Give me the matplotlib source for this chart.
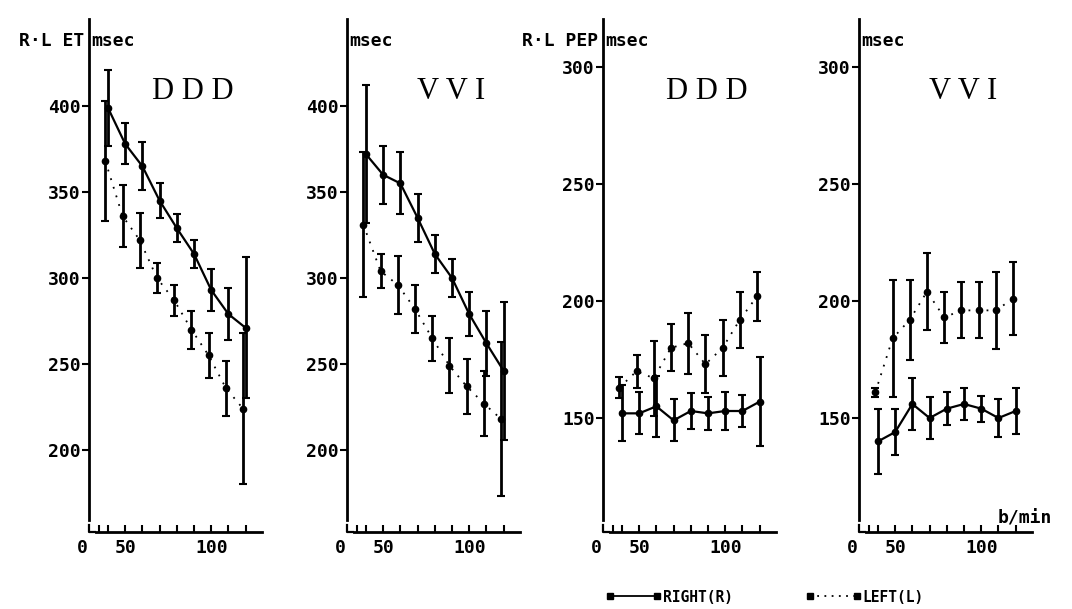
import matplotlib.pyplot as plt
from matplotlib.lines import Line2D

hr = [40, 50, 60, 70, 80, 90, 100, 110, 120]

# R-L ET, DDD
et_ddd_r = [399, 378, 365, 345, 329, 314, 293, 279, 271]
et_ddd_r_sd = [22, 12, 14, 10, 8, 8, 12, 15, 41]
et_ddd_l = [368, 336, 322, 300, 287, 270, 255, 236, 224]
et_ddd_l_sd = [35, 18, 16, 9, 9, 11, 13, 16, 44]

# R-L ET, VVI
et_vvi_r = [372, 360, 355, 335, 314, 300, 279, 262, 246]
et_vvi_r_sd = [40, 17, 18, 14, 11, 11, 13, 19, 40]
et_vvi_l = [331, 304, 296, 282, 265, 249, 237, 227, 218]
et_vvi_l_sd = [42, 10, 17, 14, 13, 16, 16, 19, 45]

# R-L PEP, DDD
pep_ddd_r = [152, 152, 155, 149, 153, 152, 153, 153, 157]
pep_ddd_r_sd = [12, 9, 13, 9, 7.5, 7, 8, 7, 19]
pep_ddd_l = [163, 170, 167, 180, 182, 173, 180, 192, 202]
pep_ddd_l_sd = [4.5, 7, 16, 10, 13, 12.5, 12, 12, 10.5]

# R-L PEP, VVI
pep_vvi_r = [140, 144, 156, 150, 154, 156, 154, 150, 153]
pep_vvi_r_sd = [14, 10, 11, 9, 7, 7, 5.5, 8, 10]
pep_vvi_l = [161, 184, 192, 204, 193, 196, 196, 196, 201]
pep_vvi_l_sd = [2, 25, 17, 16.5, 11, 12, 12, 16.5, 15.5]

panels = [
    ("D D D", et_ddd_r, et_ddd_r_sd, et_ddd_l, et_ddd_l_sd, "R\u00b7L ET"),
    ("V V I", et_vvi_r, et_vvi_r_sd, et_vvi_l, et_vvi_l_sd, None),
    ("D D D", pep_ddd_r, pep_ddd_r_sd, pep_ddd_l, pep_ddd_l_sd, "R\u00b7L PEP"),
    ("V V I", pep_vvi_r, pep_vvi_r_sd, pep_vvi_l, pep_vvi_l_sd, None),
]
et_ticks = [200, 250, 300, 350, 400]
pep_ticks = [150, 200, 250, 300]

W, H = 1072, 609
mono = dict(family="DejaVu Sans Mono", weight="bold")

fig = plt.figure(figsize=(W / 100, H / 100), dpi=100)
lefts = [89, 347, 603, 859]
top_px, bot_px, width_px = 19, 532, 173

left_off = 1.5  # left series drawn slightly to the left

for i, (title, r, rsd, l, lsd, lab) in enumerate(panels):
    ax = fig.add_axes([lefts[i] / W, (H - bot_px) / H, width_px / W, (bot_px - top_px) / H])
    ax.set_xlim(29, 129.5)
    if i < 2:
        ax.set_ylim(152.3, 450.6)
        ax.set_yticks(et_ticks)
        ybreak = 159.5
    else:
        ax.set_ylim(101.3, 320.5)
        ax.set_yticks(pep_ticks)
        ybreak = 106.5

    xl = [x - left_off for x in hr]
    ax.errorbar(hr, r, yerr=rsd, fmt="o-", color="k", ms=4.5, lw=1.6,
                elinewidth=2, capsize=3, capthick=1.5, clip_on=False, zorder=3)
    ax.errorbar(xl, l, yerr=lsd, fmt="o", color="k", ms=4.5,
                elinewidth=2, capsize=3, capthick=1.5, clip_on=False, zorder=3)
    ax.plot(xl, l, color="k", lw=1.3, ls=(0, (1, 4)), zorder=2)

    for s in ["top", "right"]:
        ax.spines[s].set_visible(False)
    ax.spines["left"].set_linewidth(2)
    ax.spines["bottom"].set_linewidth(2)
    ax.spines["left"].set_bounds(ybreak, ax.get_ylim()[1])
    ax.spines["bottom"].set_bounds(33, 129.5)

    # axis break mark at origin
    ax.plot([0, 0, 0.035], [0.014, 0, 0], transform=ax.transAxes, color="k",
            lw=1.6, clip_on=False)

    ax.set_xticks([50, 100])
    ax.set_xticklabels(["50", "100"])
    ax.set_xticks([35, 40, 60, 70, 80, 90, 110, 120], minor=True)
    ax.tick_params(axis="x", which="both", direction="in", length=5, width=1.5, pad=5)
    ax.tick_params(axis="y", direction="out", length=5, width=1.5, pad=1)
    for t in ax.get_xticklabels() + ax.get_yticklabels():
        t.set_fontfamily("DejaVu Sans Mono")
        t.set_fontweight("bold")
        t.set_fontsize(13)

    ax.annotate("0", xy=(0, 0), xycoords="axes fraction", xytext=(-7, -16),
                textcoords="offset pixels", ha="center", va="center",
                fontsize=13, **mono)
    ax.text(0.012, 0.957, "msec", transform=ax.transAxes, ha="left", va="center",
            fontsize=13, **mono)
    if lab:
        ax.text(-0.03, 0.957, lab, transform=ax.transAxes, ha="right", va="center",
                fontsize=13, **mono)
    ax.text(0.6, 0.858, title, transform=ax.transAxes, ha="center", va="center",
            fontsize=22, family="Liberation Serif")

    if i == 3:
        ax.text(0.8, 0.008, "b/min", transform=ax.transAxes, ha="left",
                va="bottom", fontsize=13, **mono)

handles = [
    Line2D([], [], color="k", ls="-", lw=1.3, marker="s", ms=5),
    Line2D([], [], color="k", ls=(0, (1, 3)), lw=1.3, marker="s", ms=5),
]
fig.legend(handles, ["RIGHT(R)", "LEFT(L)"], loc="center",
           bbox_to_anchor=(765 / W, 12 / H), ncol=2, frameon=False,
           numpoints=2, handlelength=3.8, handletextpad=0.1, columnspacing=5,
           prop=dict(family="DejaVu Sans Mono", weight="bold", size=10.5))

fig.savefig("out.png", dpi=100)
